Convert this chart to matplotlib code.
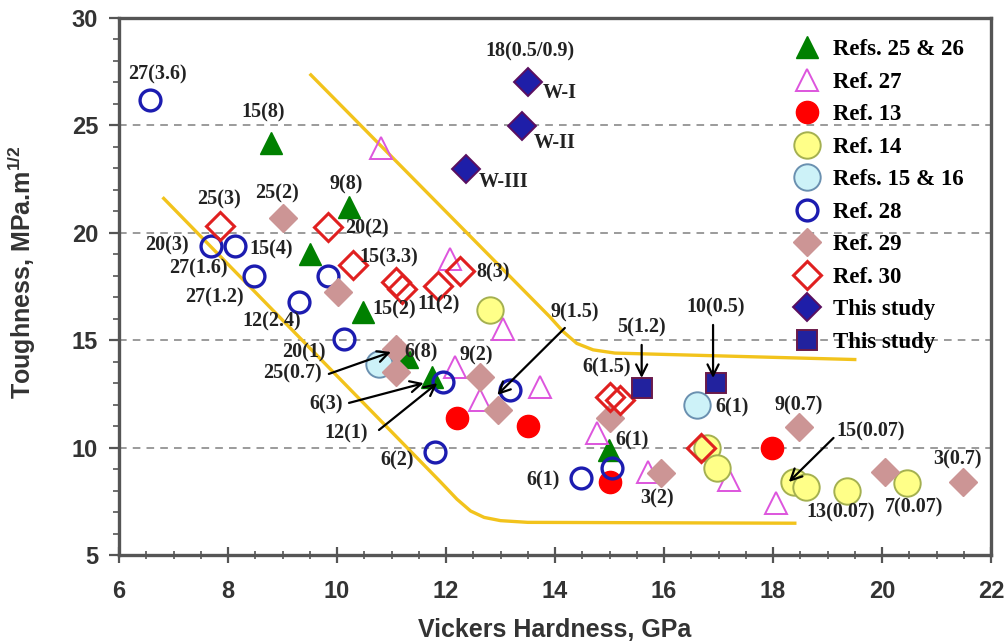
import numpy as np
import matplotlib
matplotlib.use("Agg")
import matplotlib.pyplot as plt
from matplotlib.ticker import MultipleLocator

plt.rcParams['mathtext.fontset'] = 'custom'
plt.rcParams['mathtext.rm'] = 'Liberation Sans'
plt.rcParams['mathtext.bf'] = 'Liberation Sans:bold'

# ---------------------------------------------------------
# data (hardness GPa, toughness MPa.m^1/2)
# ---------------------------------------------------------
refs2526_x = [8.79, 10.22, 9.51, 10.47, 11.28, 11.75, 14.99]
refs2526_y = [24.2, 21.2, 19.0, 16.3, 14.2, 13.3, 9.9]

ref27_x = [10.8, 12.08, 13.05, 12.17, 12.63, 13.73, 14.77, 15.70, 17.2, 18.05]
ref27_y = [23.95, 18.8, 15.5, 13.75, 12.2, 12.8, 10.7, 8.86, 8.5, 7.4]

ref13_x = [12.21, 13.5, 15.0, 17.98]
ref13_y = [11.4, 11.0, 8.4, 9.98]

ref14_x = [12.81, 16.78, 16.98, 18.38, 18.6, 19.35, 20.45]
ref14_y = [16.4, 10.0, 9.05, 8.4, 8.17, 8.0, 8.35]

ref1516_x = [10.77, 16.61]
ref1516_y = [13.9, 11.98]

ref28_x = [6.57, 7.69, 8.13, 8.48, 9.31, 9.84, 10.13, 11.95, 13.18, 11.8, 14.47, 15.04]
ref28_y = [26.2, 19.4, 19.37, 18.0, 16.8, 18.0, 15.05, 13.05, 12.7, 9.8, 8.6, 9.05]

ref29_x = [9.0, 10.02, 11.08, 11.08, 12.63, 12.96, 15.0, 15.95, 18.47, 20.06, 21.49]
ref29_y = [20.7, 17.25, 14.6, 13.5, 13.3, 11.75, 11.4, 8.8, 10.96, 8.86, 8.4]

ref30_x = [7.85, 9.84, 10.29, 11.08, 11.2, 11.86, 12.26, 15.0, 15.19, 16.68]
ref30_y = [20.3, 20.27, 18.5, 17.7, 17.4, 17.5, 18.2, 12.37, 12.2, 9.98]

study_d_x = [13.5, 13.4, 12.37]
study_d_y = [27.0, 24.97, 22.97]

study_s_x = [15.59, 16.96]
study_s_y = [12.77, 13.0]

# yellow guide curves
low_x = [6.82, 11.9, 12.2, 12.45, 12.7, 13.0, 13.5, 18.4]
low_y = [21.6, 8.4, 7.6, 7.05, 6.75, 6.6, 6.52, 6.48]
high_x = [9.52, 13.9, 14.15, 14.4, 14.7, 15.1, 19.5]
high_y = [27.35, 16.1, 15.4, 14.85, 14.55, 14.4, 14.1]

# point labels: text, x, y
labels = [
    ("27(3.6)", 6.71, 27.35), ("15(8)", 8.65, 25.58), ("25(3)", 7.84, 21.53),
    ("25(2)", 8.89, 21.85), ("9(8)", 10.16, 22.23), ("20(2)", 10.55, 20.22),
    ("15(3.3)", 10.95, 18.87), ("11(2)", 11.86, 16.64), ("8(3)", 12.87, 18.13),
    ("15(2)", 11.04, 16.41), ("6(8)", 11.55, 14.45), ("9(2)", 12.56, 14.31),
    ("20(3)", 6.88, 19.43), ("15(4)", 8.79, 19.2), ("27(1.6)", 7.46, 18.36),
    ("27(1.2)", 7.75, 17.01), ("12(2.4)", 8.81, 15.85), ("20(1)", 9.4, 14.45),
    ("25(0.7)", 9.18, 13.47), ("6(3)", 9.8, 12.03), ("12(1)", 10.16, 10.68),
    ("6(2)", 11.1, 9.42), ("9(1.5)", 14.37, 16.27), ("6(1.5)", 14.95, 13.71),
    ("5(1.2)", 15.59, 15.57), ("10(0.5)", 16.94, 16.5), ("6(1)", 17.25, 11.89),
    ("9(0.7)", 18.47, 11.98), ("6(1)", 15.41, 10.35), ("15(0.07)", 19.79, 10.73),
    ("3(0.7)", 21.38, 9.47), ("6(1)", 13.78, 8.49), ("3(2)", 15.88, 7.65),
    ("13(0.07)", 19.24, 6.96), ("7(0.07)", 20.58, 7.19),
    ("18(0.5/0.9)", 13.54, 28.42), ("W-I", 14.09, 26.51), ("W-II", 14.0, 24.18),
    ("W-III", 13.05, 22.37),
]

# arrows: tail x, tail y, head x, head y
arrows = [
    (9.85, 13.43, 10.99, 14.45),
    (10.22, 12.08, 11.59, 13.0),
    (10.77, 10.82, 11.84, 13.0),
    (14.18, 15.57, 12.94, 12.45),
    (15.59, 14.78, 15.59, 13.24),
    (16.9, 15.71, 16.9, 13.24),
    (19.11, 10.45, 18.29, 8.4),
]

# ---------------------------------------------------------
# figure
# ---------------------------------------------------------
fig = plt.figure(figsize=(10.06, 6.42), dpi=100)
ax = fig.add_axes([0.1183, 0.1355, 0.8668, 0.8365])

ax.plot(low_x, low_y, color='#f2c31c', lw=2.4, zorder=1)
ax.plot(high_x, high_y, color='#f2c31c', lw=2.4, zorder=1)

ax.plot(refs2526_x, refs2526_y, ls='none', marker='^', ms=16,
        mfc='#008000', mec='#008000', label='Refs. 25 & 26')
ax.plot(ref27_x, ref27_y, ls='none', marker='^', ms=16, mew=1.4,
        mfc='none', mec='#dd55dd', label='Ref. 27')
ax.plot(ref13_x, ref13_y, ls='none', marker='o', ms=16,
        mfc='#ff0000', mec='#ff0000', label='Ref. 13')
ax.plot(ref14_x, ref14_y, ls='none', marker='o', ms=19, mew=1.4,
        mfc='#ffff88', mec='#a4b050', label='Ref. 14')
ax.plot(ref1516_x, ref1516_y, ls='none', marker='o', ms=19, mew=1.4,
        mfc='#cdf2f8', mec='#6a90b0', label='Refs. 15 & 16')
ax.plot(ref28_x, ref28_y, ls='none', marker='o', ms=15, mew=2.4,
        mfc='none', mec='#1c1cb0', label='Ref. 28')
ax.plot(ref29_x, ref29_y, ls='none', marker='D', ms=14,
        mfc='#cc9595', mec='#cc9595', label='Ref. 29')
ax.plot(ref30_x, ref30_y, ls='none', marker='D', ms=14, mew=2.2,
        mfc='none', mec='#e02020', label='Ref. 30')
ax.plot(study_d_x, study_d_y, ls='none', marker='D', ms=14, mew=1.4,
        mfc='#1e1ea8', mec='#5a1060', label='This study')
ax.plot(study_s_x, study_s_y, ls='none', marker='s', ms=14, mew=1.4,
        mfc='#22229e', mec='#6a1a4a', label='This study')

for txt, lx, ly in labels:
    ax.text(lx, ly, txt, ha='center', va='center', fontsize=14.5,
            family='Liberation Serif', weight='bold', color='#222222', zorder=6)

for tx, ty, hx, hy in arrows:
    ax.annotate('', xy=(hx, hy), xytext=(tx, ty),
                arrowprops=dict(arrowstyle='->', color='black', lw=1.6,
                                mutation_scale=20, shrinkA=0, shrinkB=0),
                zorder=7)

ax.set_xlim(6, 22)
ax.set_ylim(5, 30)
ax.xaxis.set_major_locator(MultipleLocator(2))
ax.xaxis.set_minor_locator(MultipleLocator(0.5))
ax.yaxis.set_major_locator(MultipleLocator(5))
ax.yaxis.set_minor_locator(MultipleLocator(1))

ax.grid(axis='y', which='major', linestyle=(0, (5, 4)), color='#808080', lw=1.1)
ax.set_axisbelow(True)

for sp in ax.spines.values():
    sp.set_color('#555555')
    sp.set_linewidth(2.4)

ax.tick_params(axis='x', which='major', direction='inout', length=12, width=1.6,
               color='#555555', pad=12)
ax.tick_params(axis='x', which='minor', direction='inout', length=6, width=1.2,
               color='#555555')
ax.tick_params(axis='y', which='major', direction='out', length=7, width=1.6,
               color='#555555', pad=8)
ax.tick_params(axis='y', which='minor', direction='out', length=4, width=1.2,
               color='#555555')

for lab in ax.get_xticklabels() + ax.get_yticklabels():
    lab.set_family('Liberation Sans')
    lab.set_weight('bold')
    lab.set_fontsize(17)
    lab.set_color('#333333')

ax.set_xlabel('Vickers Hardness, GPa', fontsize=18, family='Liberation Sans',
              weight='bold', color='#333333', labelpad=11)
ax.set_ylabel(r'Toughness, MPa.m$^{\mathbf{1/2}}$', fontsize=18,
              family='Liberation Sans', weight='bold', color='#333333', labelpad=22)
ax.yaxis.set_label_coords(-0.093, 0.527)

leg = ax.legend(loc='upper left', bbox_to_anchor=(796 / 1006, 1 - 39 / 642),
                bbox_transform=fig.transFigure, frameon=False, borderpad=0,
                handlelength=1.0, handletextpad=0.6, labelspacing=0.5,
                borderaxespad=0,
                prop={'family': 'Liberation Serif', 'weight': 'bold', 'size': 16.5})

plt.savefig('out.png', dpi=100)
